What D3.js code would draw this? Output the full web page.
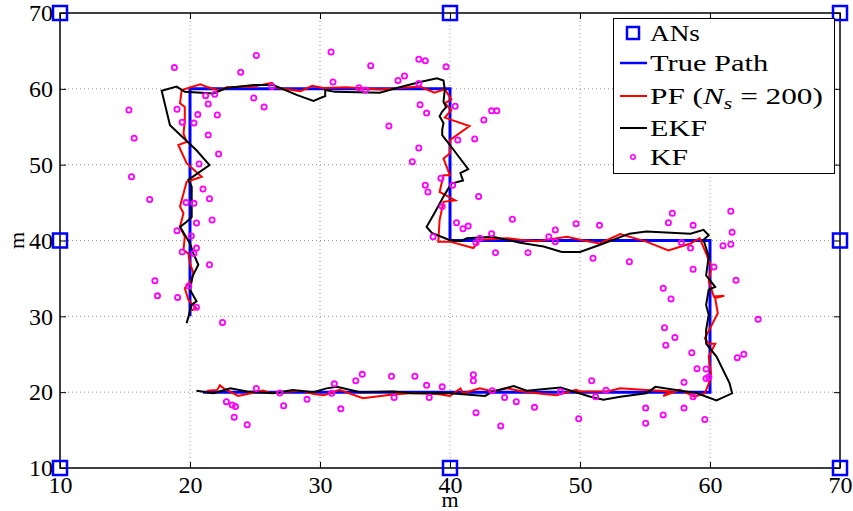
<!DOCTYPE html>
<html><head><meta charset="utf-8">
<script src="https://cdn.jsdelivr.net/npm/d3@7"></script>
<style>body{margin:0;background:#fff}svg{display:block}text{font-family:"Liberation Serif","Times New Roman",serif}</style>
</head><body><svg id="c" width="853" height="511"></svg>
<script>
const xTicks=[10,20,30,40,50,60,70];
const yTicks=[10,20,30,40,50,60,70];
const anchors=[[10,10],[40,10],[70,10],[10,40],[70,40],[10,70],[40,70],[70,70]];
const truePath=[[20,30],[20,60],[40,60],[40,40],[60,40],[60,20],[21,20]];
const pfPath=[[20.13,30.8],[20.5,31.05],[19.87,32.2],[19.6,33.7],[20.13,34.8],[20.26,35.7],[20.0,37.0],[19.87,38.3],[19.5,38.75],[19.6,40.5],[19.23,41.8],[19.5,43.6],[19.23,44.5],[19.5,46.2],[19.74,47.75],[20.9,48.4],[19.74,50.2],[19.1,52.6],[19.74,53.0],[19.5,54.1],[19.6,55.7],[19.6,57.6],[19.23,58.1],[19.36,59.85],[20.8,60.6],[21.4,60.2],[22.3,59.75],[22.8,60.2],[24.9,60.3],[26.3,60.8],[26.7,60.1],[28.5,59.7],[29.4,60.4],[30.25,60.1],[32.05,60.2],[34.6,59.9],[37.7,60.3],[38.8,59.5],[39.6,59.95],[40.1,58.6],[39.6,58.1],[40.1,57.2],[39.6,56.2],[41.5,55.1],[40,53.25],[40,51.5],[39.5,50.8],[40,48.6],[39.5,48.6],[39.2,46.4],[40.4,45.3],[39.5,45.1],[39.2,42.7],[39.1,39.85],[40,39.85],[41.8,39.0],[42.3,40.1],[44.4,40.3],[45.4,40.1],[46.7,39.9],[49.0,40.5],[50,40.1],[51.5,39.6],[53.1,40.85],[55.1,39.85],[56.8,38.7],[58.5,39.6],[59.2,40.3],[59.7,38.3],[60.1,36.5],[59.9,34.6],[60.3,32.6],[61.1,32.7],[60.4,32.4],[60.6,30.4],[59.6,27.1],[59.9,26.4],[60.4,26.4],[59.9,24.7],[60.1,22.0],[59.6,19.85],[58.8,19.4],[57.7,20.3],[56.4,19.5],[56.9,20.1],[55.1,20.3],[53.1,20.5],[52.1,20.1],[50,20.1],[49.7,20.3],[48.2,19.6],[47.2,19.75],[45.6,20.1],[44.4,20.5],[43.3,20.1],[42.3,20.5],[41.0,19.85],[40.8,20.5],[40,19.5],[39.0,19.75],[37.2,19.9],[35.6,19.7],[33.3,19.2],[31.5,20.3],[30.3,19.6],[29.5,19.75],[28.5,20.2],[26.2,19.9],[25.6,20.2],[23.7,19.5],[22.6,20.5],[22.3,20.9],[22.1,20.3],[21.3,20.2]];
const ekfPath=[[19.74,29.1],[20.13,31.5],[20.5,32.0],[20.0,33.5],[20.2,35.3],[20.64,36.8],[20.26,38.3],[20.0,39.6],[19.23,41.8],[19.7,42.4],[20.13,43.1],[20.13,47.1],[19.87,48.0],[21.5,49.95],[20.5,51.9],[18.46,55.2],[17.82,59.75],[18.97,60.3],[19.6,59.6],[21.8,59.4],[22.8,60.1],[24.9,60.5],[26.4,60.5],[28.2,59.2],[29.5,58.4],[30.4,59.05],[30.4,59.85],[31.15,59.6],[34.6,59.5],[35.9,60.1],[37.7,60.9],[39.0,61.4],[39.5,61.1],[39.6,59.9],[39.5,58.3],[39.7,57.6],[39.4,57.0],[39.2,56.4],[39.5,55.5],[39.4,54.6],[39.4,53.9],[40.3,51.9],[41.4,49.4],[40.8,48.9],[41.0,47.9],[40.1,47.5],[39.5,45.8],[38.8,43.6],[38.2,41.8],[38.6,41.0],[39.9,40.1],[40.8,39.9],[41.3,40.3],[43.3,40.5],[45.4,39.7],[47.2,39.2],[48.6,38.5],[50.0,38.5],[51.5,39.4],[53.8,40.9],[55.1,41.2],[58.5,40.9],[59.5,41.4],[59.9,40.7],[59.5,40.1],[59.9,37.9],[59.7,35.4],[60.4,33.9],[59.9,33.5],[59.7,31.5],[59.9,30.2],[59.7,28.2],[59.7,26.4],[60.5,24.7],[61.5,21.2],[61.7,19.85],[60.5,18.9],[59.0,19.85],[55.8,20.7],[55.1,19.85],[53.1,19.4],[51.8,19.0],[50.8,19.4],[48.5,20.6],[45.9,20.2],[44.9,20.8],[43.3,20.1],[42.7,19.5],[40,19.85],[37.2,19.85],[35.6,20.1],[33.1,20.0],[31.3,20.7],[30.5,20.5],[29.5,20.0],[27.9,20.3],[26.4,19.85],[24.4,20.1],[23.1,20.5],[21.8,19.85],[20.5,20.2]];
const kfPoints=[[18.8,62.8],[23.9,62.2],[25.1,64.4],[31.0,60.9],[26.3,60.3],[21.2,59.1],[21.9,59.3],[24.9,58.8],[25.7,57.6],[21.4,58.0],[15.3,57.2],[19.0,57.3],[20.6,56.6],[22.1,56.55],[19.4,55.6],[20.3,55.5],[15.7,53.5],[21.4,53.9],[22.2,51.4],[20.7,50.1],[15.5,48.4],[21.0,46.8],[21.5,45.5],[16.9,45.4],[19.7,45.0],[20.3,44.9],[21.7,42.7],[20.5,42.3],[19.0,41.3],[20.1,40.6],[20.5,39.0],[19.4,38.5],[20.3,38.3],[21.5,36.8],[17.3,34.7],[19.9,34.0],[17.5,32.7],[19.05,32.5],[20.5,31.2],[22.5,29.2],
[30.85,64.85],[33.9,63.05],[37.6,63.9],[38.1,63.7],[39.7,62.9],[36.5,61.7],[36.0,61.1],[37.6,60.7],[33.0,60.15],[33.5,59.85],[37.7,57.9],[38.2,56.8],[40.4,57.7],[35.3,55.1],[43.2,57.1],[43.6,57.1],[42.6,55.9],[40.6,53.25],[41.9,53.4],[37.6,52.2],[37.1,50.4],[39.3,48.2],[38.1,47.3],[40.2,47.3],[38.3,46.4],[42.2,45.8],[39.4,44.5],[44.8,42.8],[40.5,42.35],[41.0,41.55],[41.4,41.9],[38.7,40.5],[49.7,42.2],[48.1,41.4],[47.6,40.5],[43.2,40.9],[42.3,40.3],[42.0,39.7],[48.1,39.85],[43.5,38.4],[46.0,38.4],
[57.1,43.6],[61.6,43.85],[51.5,42.0],[56.8,42.35],[58.7,42.0],[61.7,41.1],[57.8,39.75],[61.0,39.3],[61.6,39.5],[58.5,39.0],[51.0,37.65],[53.8,37.2],[58.7,36.2],[60.3,36.5],[62.0,34.75],[56.4,33.7],[57.0,32.3],[63.7,29.6],[56.5,28.5],[57.3,27.2],[56.6,26.2],[58.6,25.2],[62.6,25.0],[62.1,24.55],[59.0,23.1],[59.7,23.05],[59.9,22.0],[59.7,21.8],[58.0,21.3],[50.9,21.5],[52.0,20.25],[51.2,19.4],[58.7,19.4],[55.05,17.9],[58.0,17.9],[56.4,17.0],[59.6,16.4],
[41.8,22.3],[41.8,21.5],[43.25,20.2],[44.2,19.3],[45.1,18.75],[46.5,18.0],[42.0,17.3],[43.9,15.55],[48.5,20.1],[49.9,16.5],[55.05,15.9],[22.8,18.75],[23.25,18.3],[23.5,18.1],[23.4,16.7],[24.4,15.7],[25.1,20.5],[26.9,19.9],[27.2,18.2],[29.0,19.05],[31.1,21.1],[30.9,19.85],[31.6,17.8],[32.75,21.5],[33.25,22.35],[35.5,22.1],[35.7,19.3],[37.3,22.1],[38.2,20.9],[38.4,19.3],[39.4,20.7]];
const legendLabels=["ANs","True Path","PF","EKF","KF"];

const svg=d3.select("#c");
const L=60,R=840,T=13,B=468;
const x=d3.scaleLinear().domain([10,70]).range([L,R]);
const y=d3.scaleLinear().domain([10,70]).range([B,T]);

// grid
const g=svg.append("g");
g.selectAll(".gx").data(xTicks.slice(1,-1)).join("line")
 .attr("x1",d=>x(d)).attr("x2",d=>x(d)).attr("y1",T).attr("y2",B)
 .attr("stroke","#999").attr("stroke-width",1).attr("stroke-dasharray","1,3");
g.selectAll(".gy").data(yTicks.slice(1,-1)).join("line")
 .attr("y1",d=>y(d)).attr("y2",d=>y(d)).attr("x1",L).attr("x2",R)
 .attr("stroke","#999").attr("stroke-width",1).attr("stroke-dasharray","1,3");

// axes
const ax=(gen,tr)=>{const a=svg.append("g").attr("transform",tr).call(gen);a.select(".domain").remove();a.selectAll("line").attr("stroke","#000").attr("stroke-width",1);return a;};
const bx=ax(d3.axisBottom(x).tickValues(xTicks).tickSize(-6).tickPadding(8),`translate(0,${B})`);
bx.selectAll("text").attr("font-size",24).attr("font-family","Liberation Serif").attr("fill","#000").attr("dy","0.71em");
const ly=ax(d3.axisLeft(y).tickValues(yTicks).tickSize(-6).tickPadding(7),`translate(${L},0)`);
ly.selectAll("text").attr("font-size",24).attr("font-family","Liberation Serif").attr("fill","#000");
ax(d3.axisTop(x).tickValues(xTicks).tickSize(-6).tickFormat(""),`translate(0,${T})`);
ax(d3.axisRight(y).tickValues(yTicks).tickSize(-6).tickFormat(""),`translate(${R},0)`);
svg.append("rect").attr("x",L).attr("y",T).attr("width",R-L).attr("height",B-T)
 .attr("fill","none").attr("stroke","#000").attr("stroke-width",1.5);

// labels
svg.append("text").attr("x",x(40)).attr("y",507).attr("text-anchor","middle").attr("font-size",22).text("m");
svg.append("text").attr("transform",`translate(24,${y(40)}) rotate(-90)`).attr("text-anchor","middle").attr("font-size",22).text("m");

// data
const line=d3.line().x(d=>x(d[0])).y(d=>y(d[1]));
svg.append("path").datum(truePath).attr("d",line).attr("fill","none").attr("stroke","#0000ff").attr("stroke-width",3);
svg.append("path").datum(pfPath).attr("d",line).attr("fill","none").attr("stroke","#ff0000").attr("stroke-width",2).attr("stroke-linejoin","miter");
svg.append("path").datum(ekfPath).attr("d",line).attr("fill","none").attr("stroke","#000").attr("stroke-width",2);
svg.selectAll(".kf").data(kfPoints).join("circle").attr("cx",d=>x(d[0])).attr("cy",d=>y(d[1])).attr("r",2.6)
 .attr("fill","none").attr("stroke","#ff00ff").attr("stroke-width",1.8);
svg.selectAll(".an").data(anchors).join("rect").attr("x",d=>x(d[0])-7).attr("y",d=>y(d[1])-7).attr("width",14).attr("height",14)
 .attr("fill","none").attr("stroke","#0000ff").attr("stroke-width",2.5);

// legend
const lg=svg.append("g");
lg.append("rect").attr("x",613.5).attr("y",18.5).attr("width",221).attr("height",155).attr("fill","#fff").attr("stroke","#000").attr("stroke-width",1);
const rows=[33,63,96,128,157];
const targetW=[50,119,173,57,38];
lg.append("rect").attr("x",627).attr("y",rows[0]-6).attr("width",12).attr("height",12).attr("fill","none").attr("stroke","#0000ff").attr("stroke-width",2.5);
[["#0000ff",2.5],["#ff0000",2],["#000",2]].forEach((c,i)=>{
 lg.append("line").attr("x1",620).attr("x2",647).attr("y1",rows[i+1]).attr("y2",rows[i+1]).attr("stroke",c[0]).attr("stroke-width",c[1]);
});
lg.append("circle").attr("cx",633).attr("cy",rows[4]).attr("r",2.2).attr("fill","none").attr("stroke","#ff00ff").attr("stroke-width",1.6);
legendLabels.forEach((lab,i)=>{
 const gg=lg.append("g");
 const t=gg.append("text").attr("font-size",23);
 if(lab==="PF"){
  t.append("tspan").text("PF (");
  t.append("tspan").attr("font-style","italic").text("N");
  t.append("tspan").attr("font-style","italic").attr("font-size",16).attr("dy",5).text("s");
  t.append("tspan").attr("dy",-5).attr("xml:space","preserve").text(" = 200)");
 } else t.text(lab);
 const w=t.node().getBBox().width||1;
 gg.attr("transform",`translate(650,${rows[i]+8}) scale(${targetW[i]/w},1)`);
});
</script></body></html>
